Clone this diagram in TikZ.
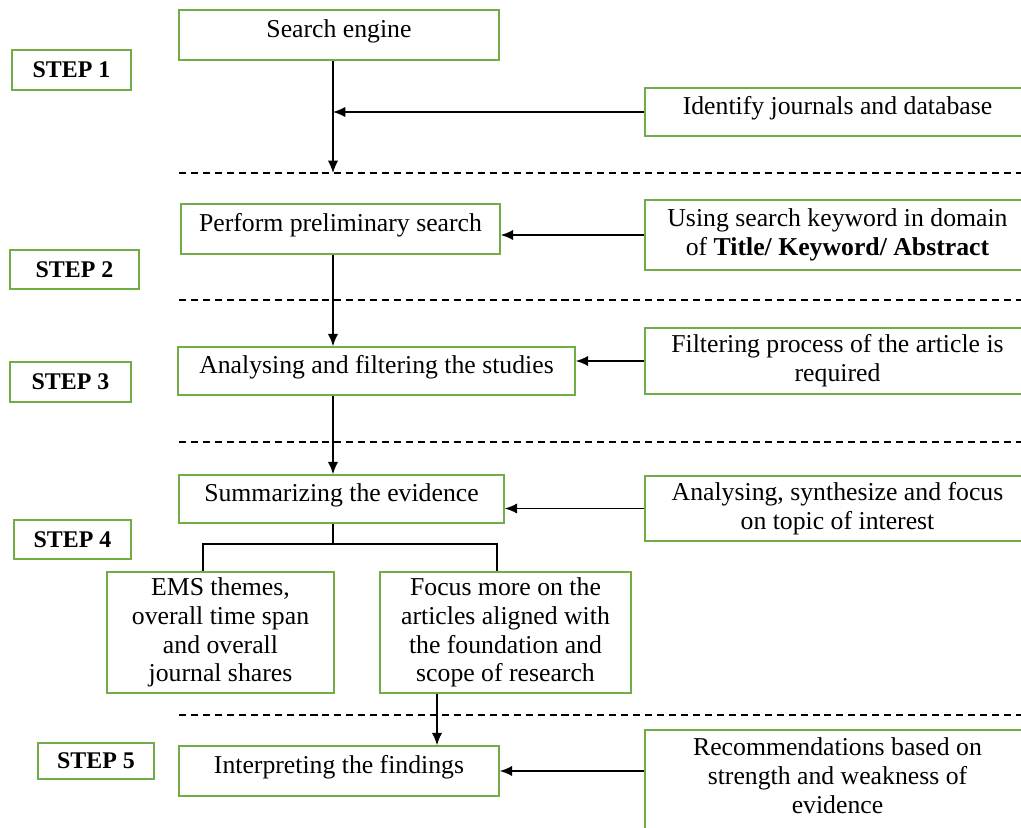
\documentclass[tikz,border=0pt]{standalone}
\usepackage{fontspec}
\setmainfont{Liberation Serif}
\usepackage{xcolor}
\usetikzlibrary{positioning,arrows.meta}
\definecolor{boxgreen}{RGB}{112,173,71}
\tikzset{
    stepbox/.style={draw=boxgreen, line width=1.1pt, align=center, inner sep=0pt, font=\fontsize{17}{20}\selectfont\bfseries},
    taskbox/.style={draw=boxgreen, line width=1.1pt, align=center, inner sep=0pt, text depth=9.5pt},
    notebox/.style={draw=boxgreen, line width=1.1pt, align=center, inner sep=0pt},
    flowarrow/.style={draw, line width=1.05pt, -{Latex[length=3.1mm, width=2.6mm]}},
    flowline/.style={draw, line width=1.05pt},
    sepline/.style={draw, line width=0.8pt, dash pattern=on 5pt off 3.5pt}
}

\begin{document}
\begin{tikzpicture}[x=0.025cm, y=-0.025cm, font=\fontsize{18.3}{20.5}\selectfont]
    \useasboundingbox (0,0) rectangle (1021,828);

    % step labels
    \node[stepbox, minimum width=2.975cm, minimum height=1.0cm] (step1) at (71.5,70) {STEP 1};
    \node[stepbox, minimum width=3.225cm, minimum height=0.975cm] (step2) at (74.5,269.5) {STEP 2};
    \node[stepbox, minimum width=3.025cm, minimum height=1.0cm] (step3) at (70.5,382) {STEP 3};
    \node[stepbox, minimum width=2.925cm, minimum height=0.975cm] (step4) at (72.5,539.5) {STEP 4};
    \node[stepbox, minimum width=2.9cm, minimum height=0.9cm] (step5) at (96,761) {STEP 5};

    % main flow
    \node[taskbox, minimum width=8.0cm, minimum height=1.25cm] (engine) at (339,35) {Search engine};
    \node[taskbox, minimum width=7.975cm, minimum height=1.25cm] (prelim) at (340.5,229) {Perform preliminary search};
    \node[taskbox, minimum width=9.925cm, minimum height=1.2cm] (analys) at (376.5,371) {Analysing and filtering the studies};
    \node[taskbox, minimum width=8.125cm, minimum height=1.2cm] (summ) at (341.5,499) {Summarizing the evidence};
    \node[notebox, minimum width=5.675cm, minimum height=3.025cm] (ems) at (220.5,632.5) {EMS themes,\\overall time span\\and overall\\journal shares};
    \node[notebox, minimum width=6.275cm, minimum height=3.025cm] (focus) at (505.5,632.5) {Focus more on the\\articles aligned with\\the foundation and\\scope of research};
    \node[taskbox, minimum width=8.0cm, minimum height=1.25cm] (interp) at (339,771) {Interpreting the findings};

    % side notes
    \node[notebox, minimum width=9.625cm, minimum height=1.2cm, text depth=9pt] (ident) at (837.5,112) {Identify journals and database};
    \node[notebox, minimum width=9.625cm, minimum height=1.75cm] (kwd) at (837.5,235) {Using search keyword in domain\\of \textbf{Title/ Keyword/ Abstract}};
    \node[notebox, minimum width=9.625cm, minimum height=1.65cm] (filt) at (837.5,361) {Filtering process of the article is\\required};
    \node[notebox, minimum width=9.625cm, minimum height=1.625cm] (synth) at (837.5,508.5) {Analysing, synthesize and focus\\on topic of interest};
    \node[notebox, minimum width=9.625cm, minimum height=2.75cm, text depth=13pt] (rec) at (837.5,785) {Recommendations based on\\strength and weakness of\\evidence};

    % separators
    \foreach \y in {173,300,442,715}
        \draw[sepline] (179,\y) -- (1021,\y);

    \coordinate (spine) at (333,173);
    \coordinate (fork) at (333,544);
    \coordinate (forkl) at (203,544);
    \coordinate (forkr) at (497,544);
    \coordinate (drop) at (437,715);

    \draw[flowarrow] (engine.south -| spine) -- (spine);
    \draw[flowarrow] (ident.west) -- (ident.west -| spine);
    \draw[flowarrow] (kwd.west) -- (kwd.west -| prelim.east);
    \draw[flowarrow] (prelim.south -| spine) -- (analys.north -| spine);
    \draw[flowarrow] (filt.west) -- (filt.west -| analys.east);
    \draw[flowarrow] (analys.south -| spine) -- (summ.north -| spine);
    \draw[flowarrow] (synth.west) -- (synth.west -| summ.east);
    \draw[flowline] (summ.south -| fork) -- (fork);
    \draw[flowline] (ems.north -| forkl) -- (forkl) -- (forkr) -- (focus.north -| forkr);
    \draw[flowarrow] (focus.south -| drop) -- (interp.north -| drop);
    \draw[flowarrow] (interp.east -| rec.west) -- (interp.east);
\end{tikzpicture}
\end{document}
